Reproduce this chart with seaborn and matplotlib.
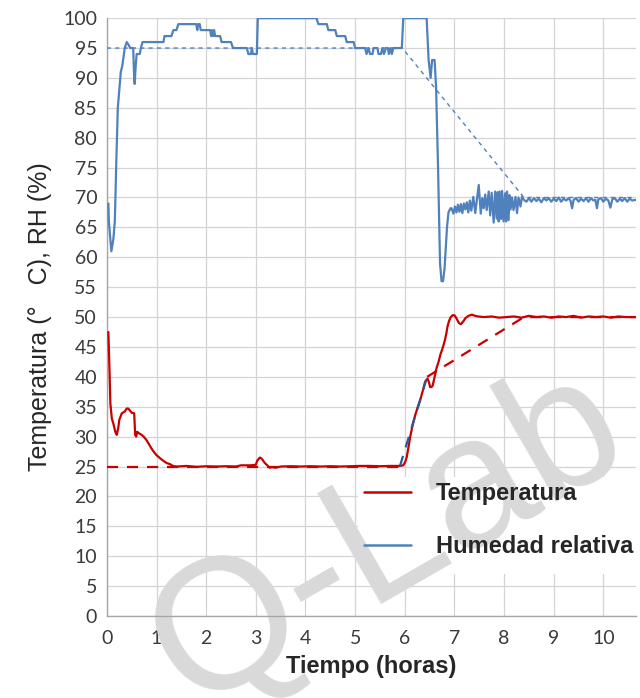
import numpy as np
import pandas as pd
import matplotlib
matplotlib.use("Agg")
import matplotlib.pyplot as plt
import seaborn as sns
from matplotlib.lines import Line2D
from matplotlib.patches import Rectangle

# humedad relativa (trazo azul)
rh_t = [0.03, 0.04, 0.09, 0.13, 0.16, 0.19, 0.22, 0.26, 0.28, 0.31, 0.36, 0.40, 0.44, 0.47,
        0.53, 0.55, 0.56, 0.58, 0.60, 0.66, 0.70, 0.72, 1.14, 1.16, 1.30, 1.34, 1.40, 1.44,
        1.80, 1.82, 1.84, 1.87, 1.89, 2.08, 2.10, 2.12, 2.14, 2.16, 2.18, 2.28, 2.31, 2.50,
        2.54, 2.82, 2.85, 2.90, 2.92, 2.94, 3.02, 3.04, 4.22, 4.26, 4.43, 4.46, 4.60, 4.63,
        4.80, 4.83, 4.97, 5.00, 5.20, 5.23, 5.27, 5.30, 5.35, 5.37, 5.45, 5.47, 5.52, 5.55,
        5.58, 5.62, 5.66, 5.68, 5.71, 5.74, 5.77, 5.94, 5.97, 6.44, 6.48, 6.52, 6.55, 6.60,
        6.63, 6.67, 6.71, 6.74, 6.77, 6.80, 6.85, 6.88, 6.92,
        6.94, 6.98, 7.01, 7.04, 7.07, 7.10, 7.13, 7.16, 7.19, 7.22, 7.25, 7.28, 7.31, 7.34,
        7.38, 7.42, 7.45, 7.49, 7.53, 7.56, 7.59, 7.62, 7.65, 7.69, 7.72, 7.75, 7.79, 7.82,
        7.85, 7.87, 7.89, 7.91, 7.94, 7.96, 7.99, 8.02, 8.04, 8.06, 8.09, 8.11, 8.13, 8.16,
        8.19, 8.23, 8.26, 8.29, 8.33, 8.36, 8.40,
        8.45, 8.50, 8.55, 8.60, 8.65, 8.70, 8.75, 8.80, 8.85, 8.90, 8.95, 9.00, 9.05, 9.10,
        9.15, 9.20, 9.25, 9.30, 9.34, 9.37, 9.40, 9.45, 9.50, 9.55, 9.60, 9.65, 9.70, 9.75,
        9.80, 9.84, 9.87, 9.90, 9.95, 10.00, 10.05, 10.10, 10.14, 10.18, 10.23, 10.28, 10.33,
        10.38, 10.43, 10.48, 10.53, 10.58, 10.65]
rh_v = [69, 66, 61, 63, 66, 76, 85, 89, 91, 92, 95, 96, 95.5, 95,
        95, 90, 89, 92, 94, 94, 95.5, 96, 96, 97, 97, 98, 98, 99,
        99, 98, 99, 99, 98, 98, 97, 98, 97, 98, 97, 97, 96, 96,
        95, 95, 94, 94, 95, 94, 94, 100, 100, 99, 99, 98, 98, 97,
        97, 96, 96, 95, 95, 94, 95, 94, 94, 95, 95, 94, 94, 95,
        94, 95, 95, 94, 95, 94, 95, 95, 100, 100, 93, 90, 93, 93,
        88.5, 75, 59, 56, 56, 58, 65, 67.5, 68.2,
        68.2, 67.3, 68.5, 67.5, 68.8, 67.6, 68.9, 67.4, 69.0, 68.0, 69.2, 67.5, 69.5, 67.8,
        70.1, 67.4, 69.5, 72.1, 67.3, 69.9, 68.2, 70.5, 67.9, 71.0, 67.0, 70.8, 65.8, 71.0,
        66.5, 70.9, 66.0, 71.0, 66.4, 71.1, 66.0, 70.7, 66.0, 71.0, 66.2, 70.4, 68.0, 70.0,
        67.9, 70.1, 67.4, 70.0, 68.5, 70.1, 69.6,
        69.3, 69.9, 69.3, 69.9, 69.4, 69.8, 69.2, 69.9, 69.5, 69.9, 69.3, 69.8, 69.4, 70.0,
        69.3, 69.8, 69.5, 69.9, 69.4, 68.2, 69.6, 69.9, 69.3, 69.8, 69.4, 69.9, 69.3, 69.9,
        69.5, 69.6, 68.2, 69.7, 69.9, 69.3, 69.8, 69.5, 68.3, 69.7, 69.9, 69.3, 69.8,
        69.4, 69.9, 69.3, 69.8, 69.5, 69.6]

# temperatura (trazo rojo)
temp_t = [0.03, 0.05, 0.07, 0.10, 0.13, 0.17, 0.20, 0.23, 0.25, 0.30, 0.36, 0.40, 0.43,
          0.47, 0.50, 0.55, 0.57, 0.59, 0.61, 0.64, 0.70, 0.75, 0.80, 0.85, 0.90, 0.95,
          1.00, 1.07, 1.13, 1.20, 1.27, 1.33, 1.40, 1.60, 1.80, 2.00, 2.20, 2.40, 2.60,
          2.70, 2.90, 3.00, 3.03, 3.08, 3.12, 3.18, 3.23, 3.28, 3.33, 3.40, 3.50, 3.70,
          3.90, 4.10, 4.30, 4.50, 4.70, 4.90, 5.10, 5.30, 5.50, 5.70, 5.90, 5.97,
          6.01, 6.04, 6.08, 6.11, 6.16, 6.21, 6.26, 6.31, 6.36, 6.41, 6.46, 6.49, 6.51,
          6.54, 6.56, 6.61, 6.64, 6.68, 6.72, 6.75, 6.78, 6.81, 6.84, 6.86, 6.89, 6.92,
          6.96, 7.00, 7.04, 7.09, 7.13, 7.18, 7.22, 7.28, 7.35, 7.42, 7.48, 7.60, 7.75,
          7.90, 8.05, 8.20, 8.35, 8.50, 8.65, 8.80, 8.95, 9.10, 9.25, 9.40, 9.55, 9.70,
          9.85, 10.00, 10.15, 10.30, 10.45, 10.65]
temp_v = [47.5, 42.0, 35.6, 33.0, 32.2, 30.8, 30.3, 31.5, 32.8, 33.9, 34.2, 34.7, 34.7,
          34.3, 34.0, 33.9, 30.3, 30.0, 30.8, 30.6, 30.3, 29.9, 29.4, 28.7, 28.0, 27.4,
          26.9, 26.4, 26.0, 25.6, 25.4, 25.1, 25.0, 25.1, 24.95, 25.05, 25.0, 25.05, 25.0,
          25.2, 25.2, 25.3, 26.0, 26.5, 26.3, 25.6, 25.2, 24.8, 24.9, 24.8, 25.0, 25.05,
          25.0, 25.05, 25.0, 25.05, 25.0, 25.05, 25.1, 25.1, 25.05, 25.1, 25.1, 25.2,
          25.8, 26.6, 28.5, 30.0, 32.0, 33.6, 34.9, 36.1, 37.6, 39.2, 39.7, 39.0, 38.3,
          38.3, 38.5, 40.3, 41.5, 42.5, 43.8, 44.5, 45.3, 46.2, 47.4, 48.4, 49.3, 49.9,
          50.3, 50.3, 49.8, 49.0, 48.8, 49.3, 49.8, 50.2, 50.4, 50.2, 50.1, 50.0, 50.1,
          49.9, 50.0, 50.1, 49.9, 50.2, 50.0, 50.1, 49.9, 50.1, 50.0, 50.2, 49.9, 50.1,
          50.0, 50.1, 49.9, 50.1, 50.0, 50.0]

# consignas (lineas discontinuas)
sp_rh_t = [0, 5.95, 8.4, 10.65]
sp_rh_v = [95, 95, 70, 70]
sp_temp_t = [0, 5.9]
sp_temp_v = [25, 25]
ramp_t = [5.9, 6.45]
ramp_v = [25, 40]
sp_temp2_t = [6.45, 8.4, 10.65]
sp_temp2_v = [40, 50, 50]

x_ticks = list(range(0, 11))
y_ticks = list(range(0, 101, 5))

red = "#c80000"
blue = "#4f81bd"

sns.set_style("white")
plt.rcParams["font.family"] = ["Liberation Sans", "DejaVu Sans"]

fig = plt.figure(figsize=(6.4, 6.98), dpi=100)
ax = fig.add_axes([0.167, 0.1175, 0.827, 0.8565])

sns.lineplot(x=sp_rh_t, y=sp_rh_v, ax=ax, color=blue, linewidth=1.0,
             linestyle=(0, (3, 3)), estimator=None, sort=False, zorder=3)
sns.lineplot(x=sp_temp_t, y=sp_temp_v, ax=ax, color=red, linewidth=1.6,
             linestyle=(0, (5, 4)), estimator=None, sort=False, zorder=3)
sns.lineplot(x=sp_temp2_t, y=sp_temp2_v, ax=ax, color=red, linewidth=1.6,
             linestyle=(0, (5, 4)), estimator=None, sort=False, zorder=5)
sns.lineplot(x=ramp_t, y=ramp_v, ax=ax, color="#2f5597", linewidth=1.6,
             linestyle=(0, (5, 4)), estimator=None, sort=False, zorder=5)
sns.lineplot(x=rh_t, y=rh_v, ax=ax, color=blue, linewidth=1.6,
             estimator=None, sort=False, zorder=4)
sns.lineplot(x=temp_t, y=temp_v, ax=ax, color=red, linewidth=1.6,
             estimator=None, sort=False, zorder=4)

ax.set_xlim(0, 10.66)
ax.set_ylim(0, 100)
ax.set_xticks(x_ticks)
ax.set_yticks(y_ticks)
for s in ["top", "right"]:
    ax.spines[s].set_visible(False)
for s in ["left", "bottom"]:
    ax.spines[s].set_color("#a6a6a6")
    ax.spines[s].set_linewidth(1.0)
ax.tick_params(axis="both", length=3, color="#a6a6a6", labelcolor="#3a3a3a",
               labelsize=14, pad=4)
for lab in ax.get_xticklabels() + ax.get_yticklabels():
    lab.set_family(["Lato", "DejaVu Sans"])
ax.tick_params(axis="x", pad=7)

ax.set_xlabel("Tiempo (horas)", fontsize=17, fontweight="bold", labelpad=6)
ax.set_ylabel("Temperatura (°   C), RH (%)", fontsize=18, labelpad=8)

# fondo blanco de la leyenda (tapa la rejilla, no la marca de agua)
ax.add_patch(Rectangle((358 / 640, 1 - 574 / 698), 280 / 640, 97 / 698,
                       transform=fig.transFigure, facecolor="white",
                       edgecolor="none", zorder=0.6))

handles = [Line2D([0], [0], color=red, linewidth=1.8),
           Line2D([0], [0], color=blue, linewidth=1.8)]
leg = ax.legend(handles, ["Temperatura", "Humedad relativa"], loc="center left",
                bbox_to_anchor=(0.559, 0.255), bbox_transform=fig.transFigure,
                frameon=False, handlelength=2.0, handletextpad=1.05,
                labelspacing=1.25, borderpad=0.25, borderaxespad=0,
                prop={"size": 17, "weight": "bold"})
leg.set_zorder(6)

# marca de agua
ax.text(0.606, 0.227, "Q-Lab", fontsize=133, color="#d9d9d9",
        rotation=30, ha="center", va="center", transform=fig.transFigure,
        clip_on=False, zorder=0.7)
ax.grid(True, color="#d4d4d4", linewidth=0.9)
for gl in ax.get_xgridlines() + ax.get_ygridlines():
    gl.set_zorder(0.8)

fig.savefig("out.png", dpi=100)
